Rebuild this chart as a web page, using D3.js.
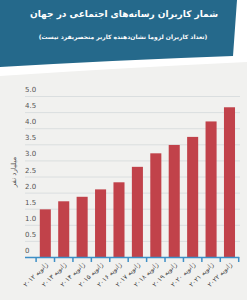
<!DOCTYPE html>
<html>
<head>
<meta charset="utf-8">
<script src="https://d3js.org/d3.v7.min.js"></script>
<style>
  body { margin: 0; background: #fff; }
  text { font-family: "DejaVu Sans", sans-serif; }
  .grid line { stroke: #dadedf; stroke-width: 1; }
  .ylab { font-size: 7px; fill: #555; }
  .xlab { font-size: 6.5px; fill: #444; }
</style>
</head>
<body>
<svg width="247" height="300"></svg>
<script>
var years = ["۲۰۱۲","۲۰۱۳","۲۰۱۴","۲۰۱۵","۲۰۱۶","۲۰۱۷","۲۰۱۸","۲۰۱۹","۲۰۲۰","۲۰۲۱","۲۰۲۲"];
var users = [1.48, 1.73, 1.87, 2.10, 2.32, 2.80, 3.22, 3.48, 3.73, 4.21, 4.65];
var yTicks = [0, 0.5, 1, 1.5, 2, 2.5, 3, 3.5, 4, 4.5, 5];
var title = "شمار  کاربران رسانه‌های اجتماعی در جهان";
var subtitle = "(تعداد کاربران لزوما نشان‌دهنده کاربر منحصربفرد نیست)";
var yTitle = "میلیارد نفر";
var monthLabel = "ژانویه";

var svg = d3.select("svg");

// background
svg.append("path")
   .attr("d", "M0,76 Q120,68 247,62 L247,300 L0,300 Z")
   .attr("fill", "#f1f1ef");

// header band
svg.append("path")
   .attr("d", "M0,0 L237,0 L233,56 Q120,60 0,67 Z")
   .attr("fill", "#25698b");

svg.append("text")
   .attr("x", 124).attr("y", 16.5)
   .attr("text-anchor", "middle")
   .attr("font-size", "9px").attr("font-weight", "bold")
   .attr("fill", "#fff")
   .text(title);

svg.append("text")
   .attr("x", 123).attr("y", 38.5)
   .attr("text-anchor", "middle")
   .attr("font-size", "6px").attr("font-weight", "bold")
   .attr("fill", "#fff")
   .text(subtitle);

var x = d3.scaleBand().domain(years).range([36.1, 238.7]).paddingInner(0.4).paddingOuter(0.2);
var y = d3.scaleLinear().domain([0, 5]).range([257, 96]);

// gridlines
svg.append("g").attr("class", "grid")
   .selectAll("line").data(yTicks.slice(1)).join("line")
   .attr("x1", 25).attr("x2", 240)
   .attr("y1", d => y(d) + 0.5).attr("y2", d => y(d) + 0.5);

// y labels
svg.append("g").selectAll("text").data(yTicks).join("text")
   .attr("class", "ylab")
   .attr("x", 25).attr("y", d => y(d) - 4)
   .text(d => d === 0 ? "0" : d3.format(".1f")(d));

svg.append("text")
   .attr("transform", "translate(16,172) rotate(-90)")
   .attr("text-anchor", "middle")
   .attr("font-size", "7px").attr("fill", "#555")
   .text(yTitle);

// bars
svg.append("g").selectAll("rect").data(users).join("rect")
   .attr("x", (d, i) => x(years[i]))
   .attr("width", x.bandwidth())
   .attr("y", d => y(d))
   .attr("height", d => y(0) - y(d))
   .attr("fill", "#c1424a");

// x axis
var step = x.step();
var axis = svg.append("g").attr("stroke", "#3d8fc6").attr("stroke-width", 1.5);
axis.append("line")
    .attr("x1", 25).attr("x2", x.range()[1] + 0.5)
    .attr("y1", y(0) + 0.5).attr("y2", y(0) + 0.5);
var tickPos = years.map(d => x(d) - step * 0.2).concat([x.range()[1]]);
axis.selectAll("line.tick").data(tickPos).join("line")
    .attr("class", "tick")
    .attr("x1", d => d).attr("x2", d => d)
    .attr("y1", y(0)).attr("y2", y(0) + 5);

svg.append("g").selectAll("text").data(years).join("text")
   .attr("class", "xlab")
   .attr("transform", d => "translate(" + (x(d) + x.bandwidth() / 2 + 3) + "," + (y(0) + 8) + ") rotate(-45)")
   .attr("text-anchor", "end")
   .text(d => monthLabel + " " + d);
</script>
</body>
</html>
